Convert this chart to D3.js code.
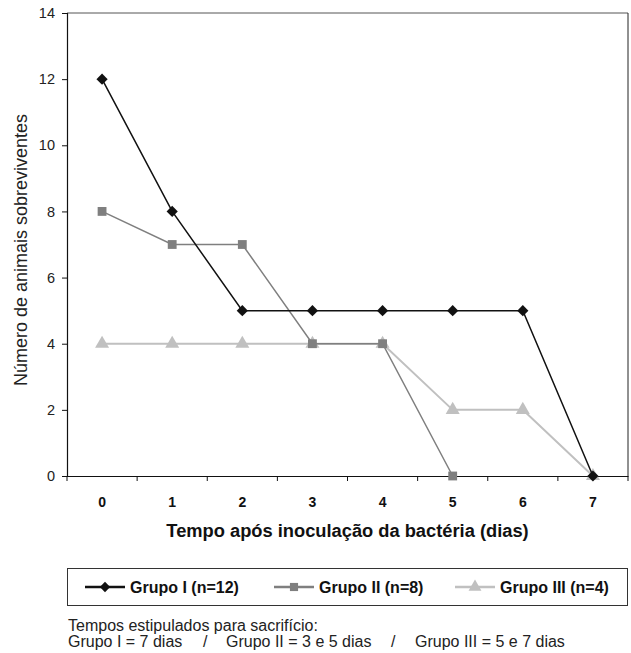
<!DOCTYPE html>
<html><head><meta charset="utf-8">
<script src="https://cdn.jsdelivr.net/npm/d3@7"></script>
<style>body{margin:0;background:#fff}svg{display:block;font-family:"Liberation Sans",Arial,sans-serif}</style>
</head><body>
<script>
const days = [0,1,2,3,4,5,6,7];
const yTicks = [0,2,4,6,8,10,12,14];
const grupoI = [12,8,5,5,5,5,5,0];
const grupoII = [8,7,7,4,4,0];
const grupoIII = [4,4,4,4,4,2,2,0];
const seriesNames = ["Grupo I (n=12)","Grupo II (n=8)","Grupo III (n=4)"];
const xTitle = "Tempo após inoculação da bactéria (dias)";
const yTitle = "Número de animais sobreviventes";
const note1 = "Tempos estipulados para sacrifício:";
const note2Parts = ["Grupo I = 7 dias","/","Grupo II = 3 e 5 dias","/","Grupo III = 5 e 7 dias"];

const W=631,H=653;
const svg=d3.select("body").append("svg").attr("width",W).attr("height",H);
const L=67,R=628,T=13,B=476;
const x=d3.scaleBand().domain(days).range([L,R]);
const y=d3.scaleLinear().domain([0,14]).range([B,T]);
const cx=d=>x(d)+x.bandwidth()/2;
const FF="Liberation Sans, Arial, sans-serif";

// plot border (top/right)
svg.append("line").attr("x1",L).attr("x2",R).attr("y1",T).attr("y2",T).attr("stroke","#555").attr("stroke-width",1);
svg.append("line").attr("x1",R).attr("x2",R).attr("y1",T).attr("y2",B).attr("stroke","#222").attr("stroke-width",1);

// y axis
const ya=svg.append("g").attr("transform",`translate(${L},0)`).call(d3.axisLeft(y).tickValues(yTicks).tickSize(5).tickPadding(7));
ya.select(".domain").attr("stroke","#111").attr("stroke-width",1.2);
ya.selectAll(".tick line").attr("stroke","#111");
ya.selectAll("text").attr("font-size",14.5).attr("fill","#222").attr("font-family",FF);

// x axis
const xa=svg.append("g").attr("transform",`translate(0,${B})`).call(d3.axisBottom(x).tickSize(0).tickPadding(21));
xa.select(".domain").attr("stroke","#111").attr("stroke-width",1.2);
xa.selectAll("text").attr("font-size",14).attr("font-weight","bold").attr("fill","#111").attr("font-family",FF);
const edges=days.map(d=>x(d)).concat([x(days[days.length-1])+x.bandwidth()]);
svg.append("g").selectAll("line").data(edges).join("line")
 .attr("x1",d=>d).attr("x2",d=>d).attr("y1",B).attr("y2",B+5).attr("stroke","#111");

// titles
svg.append("text").attr("x",(L+R)/2).attr("y",537).attr("text-anchor","middle").attr("font-size",18.3).attr("font-weight","bold").attr("fill","#111").text(xTitle);
svg.append("text").attr("transform",`translate(27,250) rotate(-90)`).attr("text-anchor","middle").attr("font-size",18).attr("fill","#222").text(yTitle);

const styles=[
 {data:grupoI,color:"#111",sym:d3.symbolDiamond2,size:80,sw:1.5},
 {data:grupoII,color:"#7f7f7f",sym:d3.symbolSquare,size:78,sw:1.5},
 {data:grupoIII,color:"#c0c0c0",sym:d3.symbolTriangle,size:85,sw:2}
];
const line=d3.line().x((d,i)=>cx(days[i])).y(d=>y(d));
[2,1,0].forEach(k=>{
 const s=styles[k];
 svg.append("path").datum(s.data).attr("d",line).attr("fill","none").attr("stroke",s.color).attr("stroke-width",s.sw);
 svg.append("g").selectAll("path").data(s.data).join("path")
  .attr("d",d3.symbol().type(s.sym).size(s.size))
  .attr("transform",(d,i)=>`translate(${cx(days[i])},${y(d)})`)
  .attr("fill",s.color);
});

// legend
svg.append("rect").attr("x",L+0.5).attr("y",568.5).attr("width",R-L-1).attr("height",37).attr("fill","none").attr("stroke","#333").attr("stroke-width",1);
const lx=[85,274,455];
styles.forEach((s,k)=>{
 const g=svg.append("g").attr("transform",`translate(${lx[k]},587)`);
 g.append("line").attr("x1",0).attr("x2",40).attr("stroke",s.color).attr("stroke-width",2.5);
 g.append("path").attr("d",d3.symbol().type(s.sym).size(s.size*0.85)).attr("transform",`translate(20,0)`).attr("fill",s.color);
 g.append("text").attr("x",45).attr("y",6).attr("font-size",16).attr("font-weight","bold").attr("fill","#111").text(seriesNames[k]);
});

// notes
svg.append("text").attr("x",68).attr("y",631).attr("font-size",16).attr("fill","#222").text(note1);
const n2x=[68,203,226,391,415];
svg.append("g").selectAll("text").data(note2Parts).join("text")
 .attr("x",(d,i)=>n2x[i]).attr("y",647).attr("font-size",16).attr("fill","#222").text(d=>d);
</script>
</body></html>
